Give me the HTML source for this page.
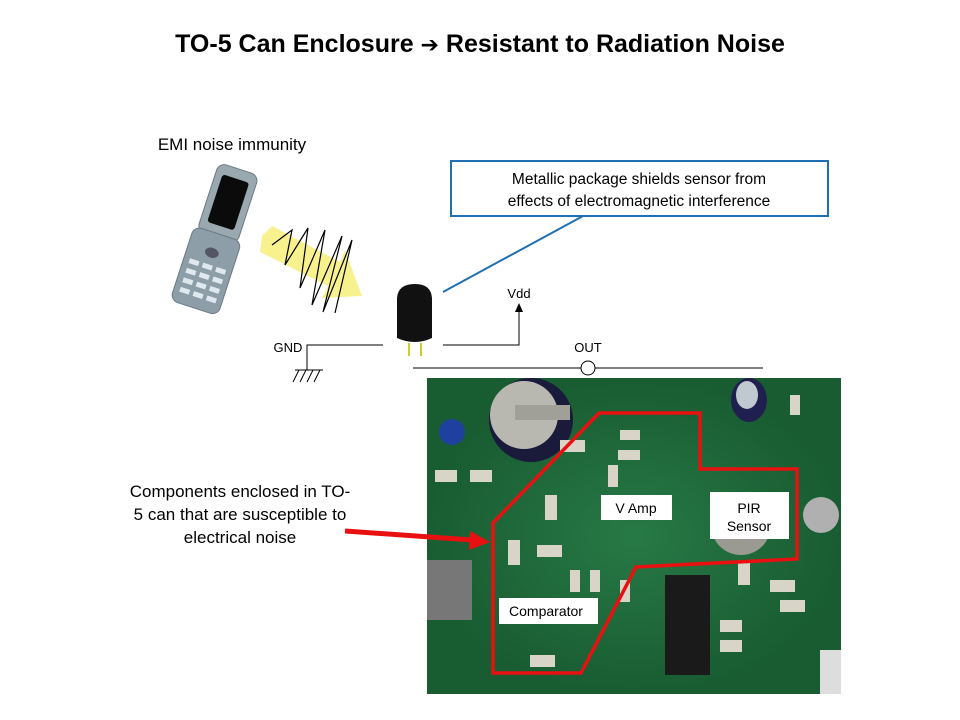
<!DOCTYPE html>
<html><head><style>
body{margin:0;background:#fff;}
svg{display:block;font-family:"Liberation Sans",Arial,sans-serif;}
</style></head><body>
<svg width="960" height="720" viewBox="0 0 960 720" xmlns="http://www.w3.org/2000/svg">
<defs><radialGradient id="g"><stop offset="0" stop-color="#3a9a5a"/><stop offset="1" stop-color="#0a3a1a"/></radialGradient></defs>
<text x="480" y="52" text-anchor="middle" font-size="25" font-weight="bold" fill="#000">TO-5 Can Enclosure <tspan font-family="DejaVu Sans" font-size="22">➔</tspan> Resistant to Radiation Noise</text>
<text x="232" y="150" text-anchor="middle" font-size="17">EMI noise immunity</text>
<!-- phone -->
<g transform="rotate(18 212 236)">
<rect x="196" y="164" width="42" height="72" rx="8" fill="#9aa8b0" stroke="#6a7a84"/>
<rect x="203" y="174" width="28" height="50" rx="3" fill="#0b0b0b"/>
<rect x="192" y="232" width="50" height="78" rx="8" fill="#8e9ea8" stroke="#6a7a84"/>
<ellipse cx="217" cy="252" rx="7" ry="5" fill="#556"/>
<g fill="#dfe8ee">
<rect x="198" y="264" width="10" height="5"/><rect x="212" y="264" width="10" height="5"/><rect x="226" y="264" width="10" height="5"/>
<rect x="198" y="274" width="10" height="5"/><rect x="212" y="274" width="10" height="5"/><rect x="226" y="274" width="10" height="5"/>
<rect x="198" y="284" width="10" height="5"/><rect x="212" y="284" width="10" height="5"/><rect x="226" y="284" width="10" height="5"/>
<rect x="198" y="294" width="10" height="5"/><rect x="212" y="294" width="10" height="5"/><rect x="226" y="294" width="10" height="5"/>
</g>
</g>
<!-- yellow beam -->
<polygon points="262,236 272,226 340,262 345,250 362,296 322,298 328,286 260,252" fill="#f6f07a" opacity="0.85"/>
<polyline points="272,245 292,230 285,265 308,228 300,288 325,230 312,305 342,236 323,312 352,240 335,313" fill="none" stroke="#000" stroke-width="1.2"/>
<!-- sensor -->
<path d="M397 298 Q398 284 415 284 Q431 284 432 298 L432 338 Q415 346 397 338Z" fill="#111"/>
<line x1="409" y1="343" x2="409" y2="356" stroke="#cc3" stroke-width="2"/>
<line x1="421" y1="343" x2="421" y2="356" stroke="#cc3" stroke-width="2"/>
<!-- callout -->
<rect x="451" y="161" width="377" height="55" fill="#fff" stroke="#1f6fb2" stroke-width="2"/>
<text x="639" y="184" text-anchor="middle" font-size="15.5">Metallic package shields sensor from</text>
<text x="639" y="206" text-anchor="middle" font-size="15.5">effects of electromagnetic interference</text>
<line x1="443" y1="292" x2="583" y2="216" stroke="#1f6fb2" stroke-width="2"/>
<!-- circuit -->
<text x="288" y="352" text-anchor="middle" font-size="13">GND</text>
<polyline points="383,345 307,345 307,370" fill="none" stroke="#000"/>
<line x1="295" y1="370" x2="323" y2="370" stroke="#000"/>
<g stroke="#000"><line x1="299" y1="370" x2="293" y2="382"/><line x1="306" y1="370" x2="300" y2="382"/><line x1="313" y1="370" x2="307" y2="382"/><line x1="320" y1="370" x2="314" y2="382"/></g>
<polyline points="443,345 519,345 519,311" fill="none" stroke="#000"/>
<polygon points="519,303 515,312 523,312" fill="#000"/>
<text x="519" y="298" text-anchor="middle" font-size="13">Vdd</text>
<line x1="413" y1="368" x2="763" y2="368" stroke="#000"/>
<circle cx="588" cy="368" r="7" fill="#fff" stroke="#000"/>
<text x="588" y="352" text-anchor="middle" font-size="13">OUT</text>
<!-- PCB photo -->
<rect x="427" y="378" width="414" height="316" fill="#1f6b3c"/>
<rect x="427" y="378" width="414" height="316" fill="url(#g)" opacity="0.3"/>
<circle cx="531" cy="420" r="42" fill="#1a1a3a"/>
<circle cx="524" cy="415" r="34" fill="#b8b8b0"/>
<rect x="515" y="405" width="55" height="15" fill="#a0a098"/>
<ellipse cx="749" cy="400" rx="18" ry="22" fill="#202050"/>
<ellipse cx="747" cy="395" rx="11" ry="14" fill="#c0c8d0"/>
<circle cx="452" cy="432" r="13" fill="#2040a0"/>
<circle cx="741" cy="525" r="30" fill="#9a9a92"/>
<circle cx="821" cy="515" r="18" fill="#b0b0b0"/>
<rect x="427" y="560" width="45" height="60" fill="#777"/>
<rect x="820" y="650" width="21" height="44" fill="#ddd"/>
<rect x="665" y="575" width="45" height="100" fill="#1a1a1a"/>
<g fill="#d8d4c8">
<rect x="560" y="440" width="25" height="12"/><rect x="620" y="430" width="20" height="10"/><rect x="618" y="450" width="22" height="10"/>
<rect x="545" y="495" width="12" height="25"/><rect x="608" y="465" width="10" height="22"/><rect x="508" y="540" width="12" height="25"/>
<rect x="537" y="545" width="25" height="12"/><rect x="570" y="570" width="10" height="22"/><rect x="590" y="570" width="10" height="22"/>
<rect x="620" y="580" width="10" height="22"/><rect x="530" y="655" width="25" height="12"/><rect x="738" y="560" width="12" height="25"/>
<rect x="770" y="580" width="25" height="12"/><rect x="780" y="600" width="25" height="12"/><rect x="720" y="620" width="22" height="12"/>
<rect x="720" y="640" width="22" height="12"/><rect x="790" y="395" width="10" height="20"/><rect x="435" y="470" width="22" height="12"/>
<rect x="470" y="470" width="22" height="12"/>
</g>
<polygon points="599,413 700,413 700,469 797,469 797,559 636,567 581,673 493,673 493,523" fill="none" stroke="#e81010" stroke-width="3.5"/>
<rect x="601" y="495" width="71" height="25" fill="#fff"/>
<text x="636" y="513" text-anchor="middle" font-size="14">V Amp</text>
<rect x="710" y="492" width="79" height="47" fill="#fff"/>
<text x="749" y="513" text-anchor="middle" font-size="14">PIR</text>
<text x="749" y="531" text-anchor="middle" font-size="14">Sensor</text>
<rect x="499" y="598" width="99" height="26" fill="#fff"/>
<text x="546" y="616" text-anchor="middle" font-size="14">Comparator</text>
<text x="240" y="497" text-anchor="middle" font-size="17">Components  enclosed in TO-</text>
<text x="240" y="520" text-anchor="middle" font-size="17">5 can that are susceptible to</text>
<text x="240" y="543" text-anchor="middle" font-size="17">electrical noise</text>
<line x1="345" y1="531" x2="472" y2="540" stroke="#e81010" stroke-width="5"/>
<polygon points="490,542 470,531 469,550" fill="#e81010"/>
</svg>
</body></html>
